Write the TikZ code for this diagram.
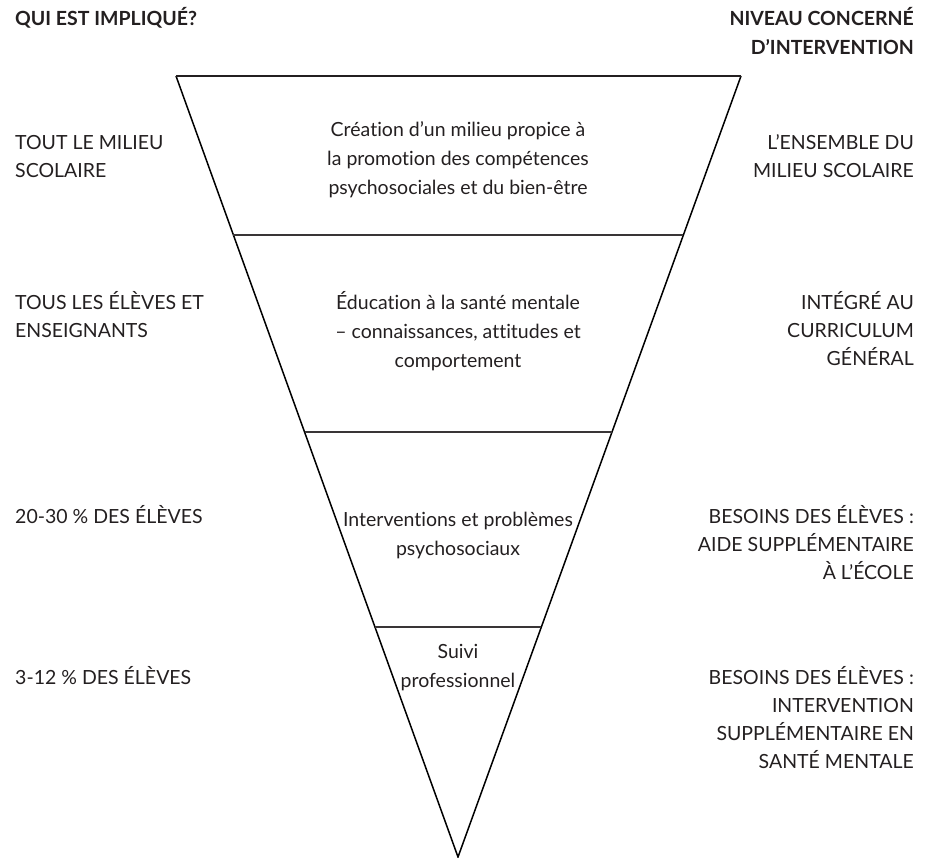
\documentclass[tikz,border=0pt]{standalone}
\usepackage{fontspec}
\setmainfont{Lato}[Ligatures=NoCommon]
\usetikzlibrary{calc}
\definecolor{ink}{HTML}{231F20}
\begin{document}
\begin{tikzpicture}[x=1pt,y=-1pt,
  lab/.style={font=\fontsize{19.5}{28}\selectfont, text=ink, inner sep=0pt},
  head/.style={font=\fontsize{19.5}{28}\selectfont\bfseries, text=ink, inner sep=0pt},
  mid/.style={font=\fontsize{19.5}{29}\selectfont, text=ink, inner sep=0pt, align=center},
  edgeline/.style={line width=1.5pt, black, line join=miter},
  topline/.style={line width=2.2pt, ink},
  divider/.style={line width=2.6pt, ink!90}]
\useasboundingbox (0,0) rectangle (933,857);
% triangle
\coordinate (TL) at (176,76);
\coordinate (TR) at (741,76);
\coordinate (A) at (458,857);
\coordinate (L1) at ($(TL)!0.2036!(A)$);
\coordinate (R1) at ($(TR)!0.2036!(A)$);
\coordinate (L2) at ($(TL)!0.4558!(A)$);
\coordinate (R2) at ($(TR)!0.4558!(A)$);
\coordinate (L3) at ($(TL)!0.7055!(A)$);
\coordinate (R3) at ($(TR)!0.7055!(A)$);
\draw[edgeline] (TL) -- (A) -- (TR);
\draw[topline] (TL) -- (TR);
\draw[divider] (L1) -- (R1);
\draw[divider] (L2) -- (R2);
\draw[divider] (L3) -- (R3);
% headers
\node[head, anchor=base west] (h1) at (15,25) {QUI EST IMPLIQUÉ?};
\node[head, anchor=base east] (h2) at (914,25) {NIVEAU CONCERNÉ};
\node[head, anchor=base east] (h3) at (914,54) {D’INTERVENTION};
% left labels
\node[lab, anchor=base west] (a1) at (15,149) {TOUT LE MILIEU};
\node[lab, anchor=base west] (a2) at (15,177) {SCOLAIRE};
\node[lab, anchor=base west] (b1) at (15,309) {TOUS LES ÉLÈVES ET};
\node[lab, anchor=base west] (b2) at (15,337) {ENSEIGNANTS};
\node[lab, anchor=base west] (c1) at (15,523) {20-30 \% DES ÉLÈVES};
\node[lab, anchor=base west] (d1) at (15,684) {3-12 \% DES ÉLÈVES};
% right labels
\node[lab, anchor=base east] (e1) at (914,149) {L’ENSEMBLE DU};
\node[lab, anchor=base east] (e2) at (914,177) {MILIEU SCOLAIRE};
\node[lab, anchor=base east] (f1) at (914,309) {INTÉGRÉ AU};
\node[lab, anchor=base east] (f2) at (914,337) {CURRICULUM};
\node[lab, anchor=base east] (f3) at (914,365) {GÉNÉRAL};
\node[lab, anchor=base east] (g1) at (914,523) {BESOINS DES ÉLÈVES :};
\node[lab, anchor=base east] (g2) at (914,551) {AIDE SUPPLÉMENTAIRE};
\node[lab, anchor=base east] (g3) at (914,579) {À L’ÉCOLE};
\node[lab, anchor=base east] (k1) at (914,684) {BESOINS DES ÉLÈVES :};
\node[lab, anchor=base east] (k2) at (914,712) {INTERVENTION};
\node[lab, anchor=base east] (k3) at (914,740) {SUPPLÉMENTAIRE EN};
\node[lab, anchor=base east] (k4) at (914,768) {SANTÉ MENTALE};
% centre texts
\node[mid] (m1) at (458,160) {Création d’un milieu propice à\\la promotion des compétences\\psychosociales et du bien-être};
\node[mid] (m2) at (458,331) {Éducation à la santé mentale\\– connaissances, attitudes et\\comportement};
\node[mid] (m3) at (458,535) {Interventions et problèmes\\psychosociaux};
\node[mid] (m4) at (458,668) {Suivi\\professionnel};
\end{tikzpicture}
\end{document}
